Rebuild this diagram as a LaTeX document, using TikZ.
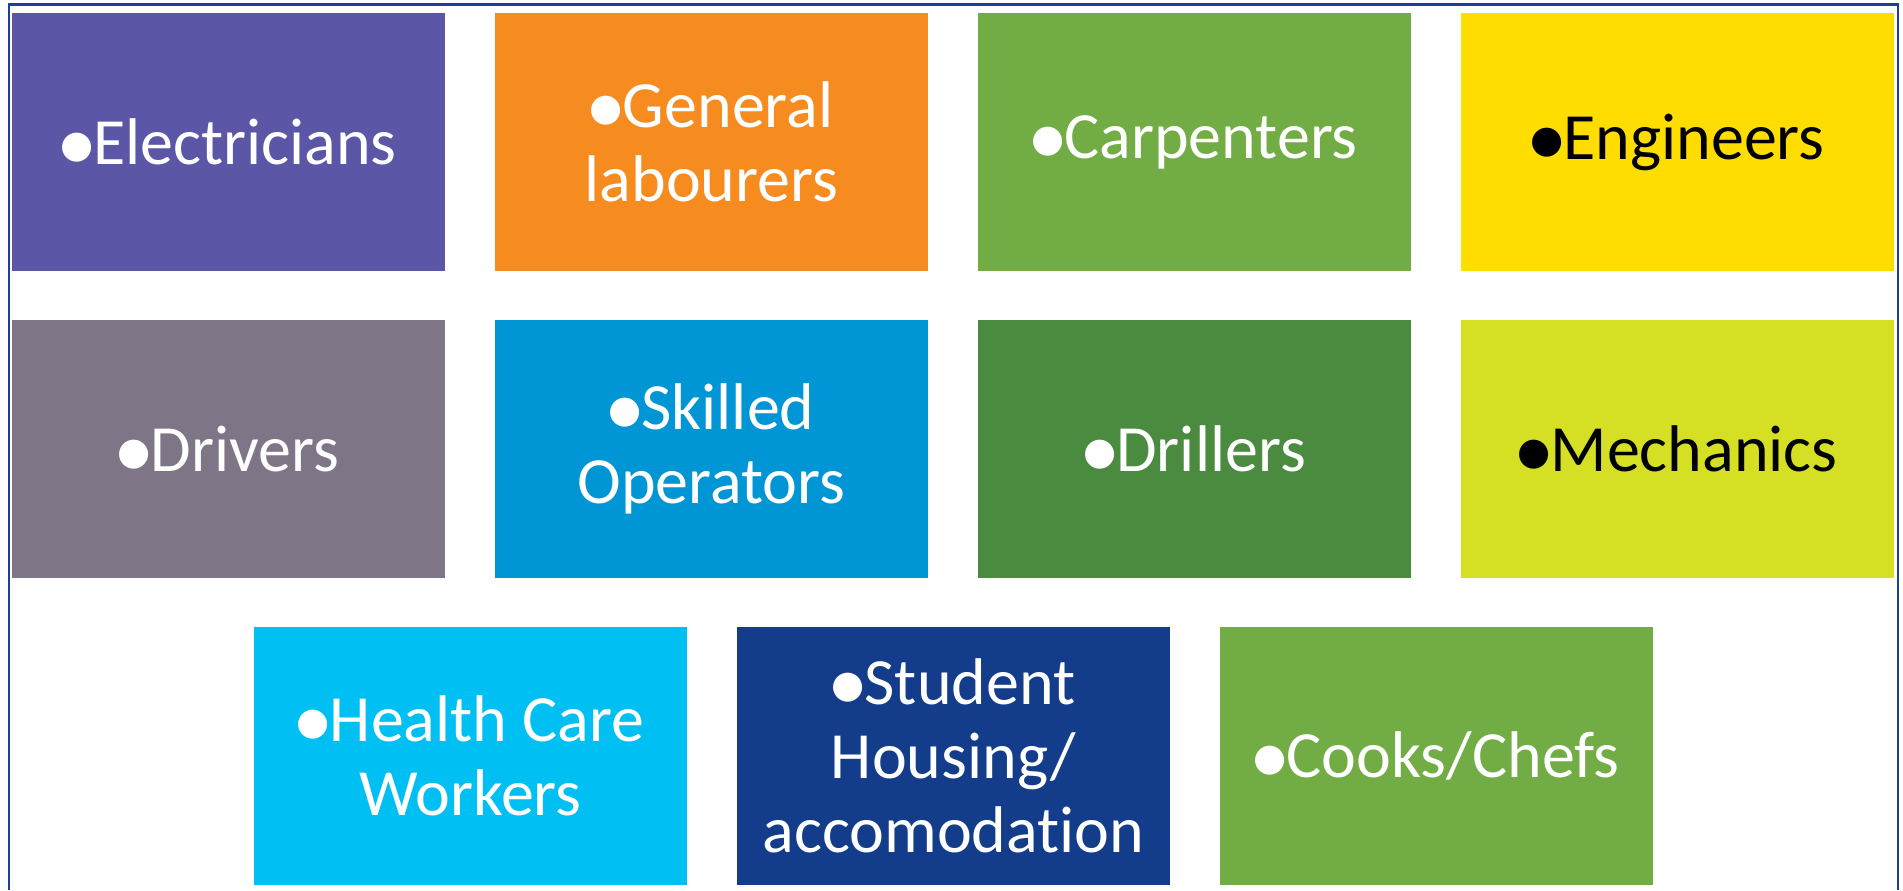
\documentclass[tikz,border=0pt]{standalone}
\usepackage{fontspec}
\setmainfont{Carlito}[Ligatures={NoCommon,NoContextual}]
\newfontfamily\dotfont{DejaVu Sans}
\definecolor{elecpurple}{RGB}{91,87,166}
\definecolor{labourorange}{RGB}{246,139,31}
\definecolor{leafgreen}{RGB}{114,172,68}
\definecolor{engyellow}{RGB}{255,221,0}
\definecolor{drivergray}{RGB}{126,118,134}
\definecolor{operblue}{RGB}{0,150,214}
\definecolor{drillgreen}{RGB}{74,139,63}
\definecolor{mechlime}{RGB}{213,223,35}
\definecolor{healthcyan}{RGB}{0,191,243}
\definecolor{housenavy}{RGB}{19,61,138}
\definecolor{frameblue}{RGB}{31,62,153}
\newcommand{\dotmark}{\raisebox{3.5pt}{\dotfont\fontsize{19}{19}\selectfont ●}}

\begin{document}
\begin{tikzpicture}[x=0.5pt,y=-0.5pt,
        job/.style={minimum width=216.5pt, minimum height=129pt, inner sep=0pt,
            text=white, align=center, font=\fontsize{33}{37}\selectfont}]
        \useasboundingbox (0,0) rectangle (1903,890);

        % frame
        \draw[frameblue, line width=1.25pt] (9,890) -- (9,4.5) -- (1898,4.5) -- (1898,890);

        % row 1
        \node[job, fill=elecpurple] (electricians) at (228.5,142) {\dotmark Electricians};
        \node[job, fill=labourorange] (labourers) at (711.5,142) {\dotmark General\\labourers};
        \node[job, fill=leafgreen] (carpenters) at (1194.5,142) {\dotmark Carpenters};
        \node[job, fill=engyellow, text=black] (engineers) at (1677.5,142) {\dotmark Engineers};

        % row 2
        \node[job, fill=drivergray] (drivers) at (228.5,449) {\dotmark Drivers};
        \node[job, fill=operblue] (operators) at (711.5,449) {\dotmark Skilled\\Operators};
        \node[job, fill=drillgreen] (drillers) at (1194.5,449) {\dotmark Drillers};
        \node[job, fill=mechlime, text=black] (mechanics) at (1677.5,449) {\dotmark Mechanics};

        % row 3
        \node[job, fill=healthcyan] (health) at (470.5,756) {\dotmark Health Care\\Workers};
        \node[job, fill=housenavy] (housing) at (953.5,756) {\dotmark Student\\Housing/\\accomodation};
        \node[job, fill=leafgreen] (cooks) at (1436.5,756) {\dotmark Cooks/Chefs};
\end{tikzpicture}
\end{document}
